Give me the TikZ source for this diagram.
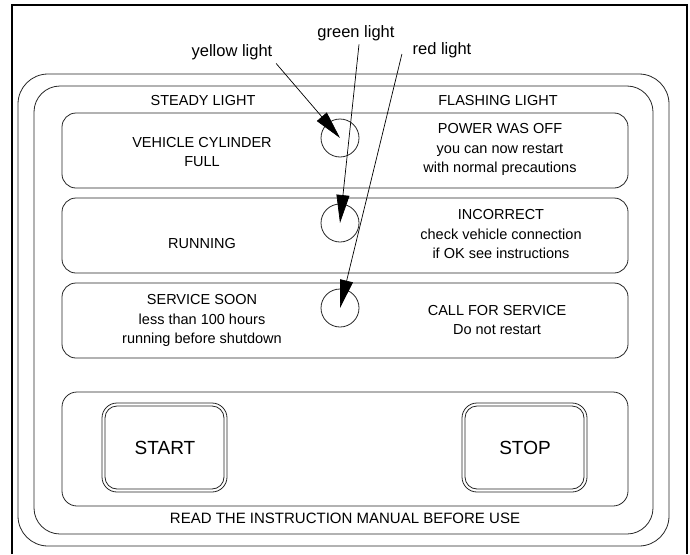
\documentclass[tikz,border=0pt]{standalone}
\usepackage{fontspec}
\setmainfont{Liberation Sans}
\usetikzlibrary{arrows.meta}
\newcommand{\lbl}{\fontsize{16.5}{19}\selectfont}
\newcommand{\txt}{\fontsize{14.5}{19.5}\selectfont}
\newcommand{\btn}{\fontsize{19}{22}\selectfont}

\begin{document}
\begin{tikzpicture}[x=1pt,y=-1pt,line width=0.8pt,
    panel/.style={draw=black!85,rounded corners=#1},
    lamp/.style={circle,draw=black!85,minimum size=38pt,inner sep=0pt},
    rowtext/.style={font=\txt,align=center},
    tag/.style={font=\lbl},
    pointer/.style={-{Triangle[length=28pt,width=13pt]},line width=0.7pt}]
            \useasboundingbox (0,0) rectangle (690,554);
            \draw[line width=2.5pt] (12,554)--(12,5)--(687,5)--(687,554);
            \draw[panel=30pt] (18,74) rectangle (669,546);
            \draw[panel=26pt] (34,86) rectangle (653,534);
            \draw[panel=14pt] (62,113) rectangle (628,188);
            \draw[panel=14pt] (62,198) rectangle (628,273);
            \draw[panel=14pt] (62,283) rectangle (628,358);
            \draw[panel=15pt] (62,392) rectangle (628,506);
            \draw[panel=15pt] (102,403) rectangle (227,492);
            \draw[panel=12pt] (105,406) rectangle (224,489);
            \draw[panel=15pt] (462,403) rectangle (587,492);
            \draw[panel=12pt] (465,406) rectangle (584,489);
            \node[lamp] (c1) at (340,138) {};
            \node[lamp] (c2) at (340,223) {};
            \node[lamp] (c3) at (340,308) {};
            \node[tag] (yellow) at (232,52) {yellow light};
            \node[tag] (green) at (356,33) {green light};
            \node[tag] (red) at (442,50) {red light};
            \node[rowtext] (steady) at (203,101) {STEADY LIGHT};
            \node[rowtext] (flashing) at (498,101) {FLASHING LIGHT};
            \node[rowtext] (full) at (202,152) {VEHICLE CYLINDER\\FULL};
            \node[rowtext] (poweroff) at (500,149.5) {POWER WAS OFF\\you can now restart\\with normal precautions};
            \node[rowtext] (running) at (202,244) {RUNNING};
            \node[rowtext] (incorrect) at (501,234.5) {INCORRECT\\check vehicle connection\\if OK see instructions};
            \node[rowtext] (soon) at (202,320.5) {SERVICE SOON\\less than 100 hours\\running before shutdown};
            \node[rowtext] (callsvc) at (497,320) {CALL FOR SERVICE\\Do not restart};
            \node[font=\btn] (start) at (165,448) {START};
            \node[font=\btn] (stop) at (525,448) {STOP};
            \node[font=\fontsize{15}{18}\selectfont] (manual) at (345,518) {READ THE INSTRUCTION MANUAL BEFORE USE};
            \draw[pointer] (yellow.south east) -- (c1.center);
            \draw[pointer] ([xshift=3pt]green.south) -- (c2.center);
            \draw[pointer] ([xshift=-7pt,yshift=-4pt]red.west) -- (c3.center);
        \end{tikzpicture}
\end{document}
